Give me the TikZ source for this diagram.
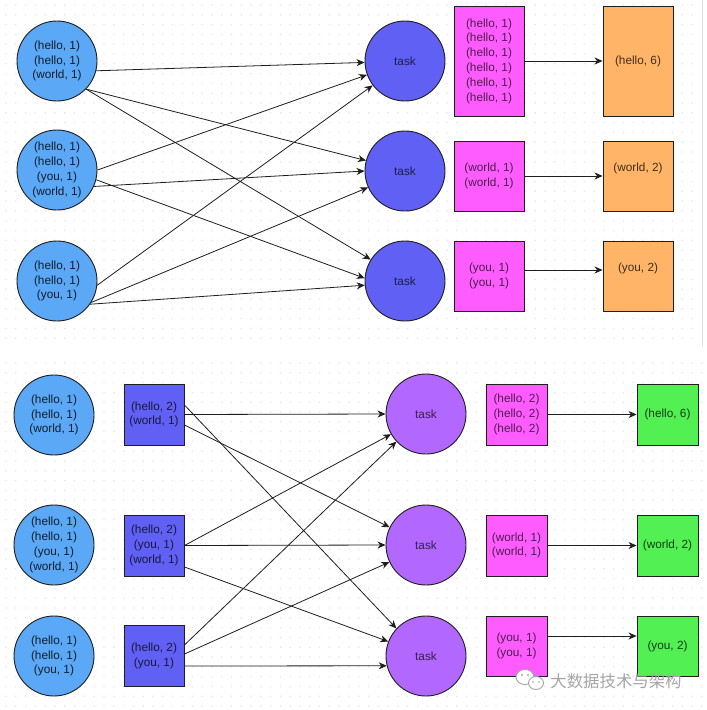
\documentclass[tikz,border=0pt]{standalone}
\usepackage{fontspec}
\setmainfont{Liberation Sans}
\newfontfamily\cjkfont{Noto Sans CJK SC}
\usetikzlibrary{arrows.meta}

% fills
\definecolor{mapblue}{RGB}{90,168,246}
\definecolor{taskblue}{RGB}{96,96,244}
\definecolor{taskpurple}{RGB}{178,104,255}
\definecolor{shufpink}{RGB}{255,92,255}
\definecolor{redorange}{RGB}{255,180,104}
\definecolor{redgreen}{RGB}{82,240,82}
% strokes and background
\definecolor{edgec}{RGB}{30,30,30}
\definecolor{dotc}{RGB}{228,228,228}
\definecolor{framec}{RGB}{222,222,222}
\definecolor{wmgray}{RGB}{165,165,165}

\begin{document}
\begin{tikzpicture}[x=1pt,y=-1pt,
  every node/.style={font=\fontsize{11.8}{14.8}\selectfont, align=center, inner sep=0pt},
  ball/.style={circle, draw=edgec, line width=0.9pt, minimum size=80pt},
  mapball/.style={ball, fill=mapblue, text=mapblue!18!black},
  taskA/.style={ball, fill=taskblue, text=taskblue!30!black},
  taskB/.style={ball, fill=taskpurple, text=taskpurple!30!black},
  box/.style={rectangle, draw=edgec, line width=0.9pt},
  pinkbox/.style={box, fill=shufpink, text=shufpink!30!black},
  orangebox/.style={box, fill=redorange, text=redorange!25!black, minimum width=70pt},
  greenbox/.style={box, fill=redgreen, text=redgreen!25!black, minimum width=61pt, minimum height=61pt},
  combbox/.style={box, fill=taskblue, text=taskblue!25!black, minimum width=60pt, minimum height=61pt},
  flow/.style={draw=edgec, line width=0.8pt, -{Stealth[length=8pt,width=7pt,inset=2.5pt]}}
]
\useasboundingbox (0,0) rectangle (707,710);
\fill[white] (0,0) rectangle (707,710);

% canvas grid dots of the two panels
\fill[dotc] \foreach \x in {6,15.8,...,700} {\foreach \y in {5,14.8,...,346} {(\x-0.6,\y-0.6) rectangle ++(1.2,1.2)}};
\fill[dotc] \foreach \x in {6,15.8,...,706} {\foreach \y in {363,372.8,...,708} {(\x-0.6,\y-0.6) rectangle ++(1.2,1.2)}};
\draw[framec, line width=0.8pt] (702,0) -- (702,346);

% ---------- upper panel: map output -> tasks -> grouped -> reduced ----------
\node[mapball] (L1) at (57,61)  {(hello, 1)\\(hello, 1)\\(world, 1)};
\node[mapball] (L2) at (57,170) {(hello, 1)\\(hello, 1)\\(you, 1)\\(world, 1)};
\node[mapball] (L3) at (57,281) {(hello, 1)\\(hello, 1)\\(you, 1)};

\node[taskA] (T1) at (405,61)  {task};
\node[taskA] (T2) at (405,171) {task};
\node[taskA] (T3) at (405,281) {task};

\node[pinkbox, minimum width=70pt, minimum height=110pt] (M1) at (489,61)
  {(hello, 1)\\(hello, 1)\\(hello, 1)\\(hello, 1)\\(hello, 1)\\(hello, 1)};
\node[pinkbox, minimum width=70pt, minimum height=70pt] (M2) at (489,176) {(world, 1)\\(world, 1)};
\node[pinkbox, minimum width=70pt, minimum height=70pt] (M3) at (489,276) {(you, 1)\\(you, 1)};

\node[orangebox, minimum height=110pt] (O1) at (638,61) {(hello, 6)};
\node[orangebox, minimum height=70pt,
  label={[text=redorange!25!black, yshift=8pt]center:(world, 2)}] (O2) at (638,176) {};
\node[orangebox, minimum height=70pt,
  label={[text=redorange!25!black, yshift=8pt]center:(you, 2)}] (O3) at (638,276) {};

\draw[flow] (L1.-14) -- (T1.182);
\draw[flow] (L1.-44) -- (T2.165);
\draw[flow] (L1.-44) -- (T3.148);
\draw[flow] (L2.0)   -- (T1.200);
\draw[flow] (L2.-24) -- (T2.180);
\draw[flow] (L2.-14) -- (T3.176);
\draw[flow] (L3.-6)  -- (T1.217);
\draw[flow] (L3.-32) -- (T2.204);
\draw[flow] (L3.-35) -- (T3.186);

\draw[flow] (M1.east) -- (O1.west);
\draw[flow] (M2.east) -- (O2.west);
\draw[flow] ([yshift=6pt]M3.east) -- ([yshift=6pt]O3.west);

% ---------- lower panel: with a combine step ----------
\node[mapball] (C1) at (54,415) {(hello, 1)\\(hello, 1)\\(world, 1)};
\node[mapball] (C2) at (54,545) {(hello, 1)\\(hello, 1)\\(you, 1)\\(world, 1)};
\node[mapball] (C3) at (54,656) {(hello, 1)\\(hello, 1)\\(you, 1)};

\node[combbox] (B1) at (154,414.5) {(hello, 2)\\(world, 1)};
\node[combbox] (B2) at (154,545.5) {(hello, 2)\\(you, 1)\\(world, 1)};
\node[combbox] (B3) at (154,656)   {(hello, 2)\\(you, 1)};

\node[taskB] (U1) at (426,414) {task};
\node[taskB] (U2) at (426,545) {task};
\node[taskB] (U3) at (426,656) {task};

\node[pinkbox, minimum width=61pt, minimum height=61pt] (P1) at (516.5,414.5) {(hello, 2)\\(hello, 2)\\(hello, 2)};
\node[pinkbox, minimum width=61pt, minimum height=61pt] (P2) at (516.5,545.5) {(world, 1)\\(world, 1)};
\node[pinkbox, minimum width=61pt, minimum height=60pt] (P3) at (516.5,646) {(you, 1)\\(you, 1)};

\node[greenbox] (G1) at (667.5,414.5) {(hello, 6)};
\node[greenbox] (G2) at (667.5,545.5) {(world, 2)};
\node[greenbox, minimum height=60pt] (G3) at (667.5,646) {(you, 2)};

\draw[flow] ([yshift=9.5pt]B1.east)  -- (U3.137);
\draw[flow] (B1.east)                 -- (U1.west);
\draw[flow] ([yshift=-10.5pt]B1.east) -- (U2.154);
\draw[flow] (B2.east)                 -- (U1.210);
\draw[flow] (B2.east)                 -- (U2.west);
\draw[flow] ([yshift=-21.5pt]B2.east) -- (U3.159);
\draw[flow] ([yshift=11pt]B3.east)    -- (U1.223);
\draw[flow] ([yshift=2pt]B3.east)     -- (U2.205);
\draw[flow] ([yshift=-10pt]B3.east)   -- (U3.194);

\draw[flow] (P1.east) -- (G1.west);
\draw[flow] (P2.east) -- (G2.west);
\draw[flow] ([yshift=10pt]P3.east) -- ([yshift=10pt]G3.west);

% ---------- account mark ----------
\begin{scope}[draw=wmgray, line width=0.9pt, fill=white]
  \filldraw (525,677) ellipse [x radius=9pt, y radius=7.5pt];
  \filldraw (536,683) ellipse [x radius=7.5pt, y radius=6.5pt];
  \fill[wmgray] (522,675) circle (1.1pt) (528,675) circle (1.1pt)
                (533,682) circle (0.9pt) (539,682) circle (0.9pt);
\end{scope}
\node[text=wmgray, font=\cjkfont\fontsize{16.4}{18}\selectfont] (wm) at (616,681) {大数据技术与架构};
\end{tikzpicture}
\end{document}
